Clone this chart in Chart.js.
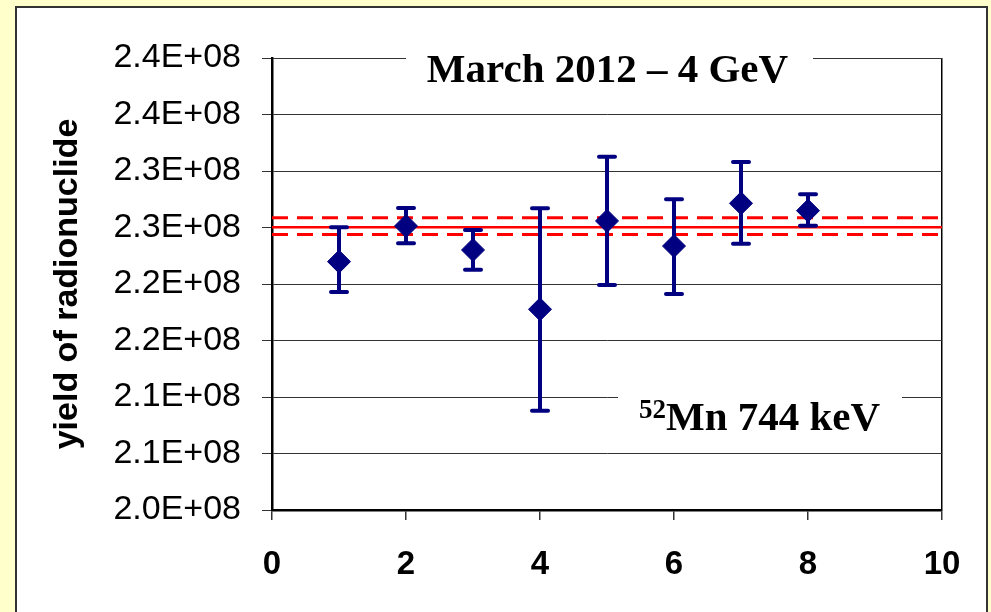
<!DOCTYPE html>
<html>
<head>
<meta charset="utf-8">
<script src="https://cdn.jsdelivr.net/npm/chart.js@4.4.1/dist/chart.umd.min.js"></script>
<style>
  html, body { margin: 0; padding: 0; background: #FFFFCC; width: 991px; height: 612px; overflow: hidden; }
  #frame { position: absolute; left: 15px; top: 6px; width: 973px; height: 700px; box-sizing: border-box;
           background: #FFFFFF; border: 2px solid #333333; }
  #c { position: absolute; left: 0; top: 0; }
</style>
</head>
<body>
<div id="frame"></div>
<canvas id="c" width="991" height="612"></canvas>
<script>
// ---- data ----
const runNumbers = [1, 2, 3, 4, 5, 6, 7, 8];
const yields     = [2.2198e8, 2.2513e8, 2.2301e8, 2.1776e8, 2.2558e8, 2.2336e8, 2.2714e8, 2.2649e8];
const yieldUpper = [2.2502e8, 2.2673e8, 2.2478e8, 2.2670e8, 2.3127e8, 2.2750e8, 2.3080e8, 2.2794e8];
const yieldLower = [2.1929e8, 2.2360e8, 2.2127e8, 2.0879e8, 2.1991e8, 2.1912e8, 2.2357e8, 2.2516e8];
const meanYield  = 2.2503e8;
const meanUpper  = 2.2586e8;
const meanLower  = 2.2438e8;
const meanSpan   = [0, 10];
const yTickLabels = ['2.0E+08', '2.1E+08', '2.1E+08', '2.2E+08', '2.2E+08', '2.3E+08', '2.3E+08', '2.4E+08', '2.4E+08'];
const chartTitle = 'March 2012 \u2013 4 GeV';
const isotopeMass = '52';
const isotopeLabel = 'Mn 744 keV';
const yAxisTitle = 'yield of radionuclide';

const NAVY = '#000080';
const RED = '#FF0000';

const errorBarPlugin = {
  id: 'errorBars',
  beforeDatasetDraw(chart, args) {
    if (args.index !== 0) return;
    const ctx = chart.ctx, xs = chart.scales.x, ys = chart.scales.y;
    ctx.save();
    ctx.strokeStyle = NAVY;
    ctx.lineWidth = 4;
    ctx.lineCap = 'round';
    for (let i = 0; i < runNumbers.length; i++) {
      const px = xs.getPixelForValue(runNumbers[i]);
      const top = ys.getPixelForValue(yieldUpper[i]);
      const bot = ys.getPixelForValue(yieldLower[i]);
      ctx.beginPath();
      ctx.moveTo(px, top); ctx.lineTo(px, bot);
      ctx.moveTo(px - 8, top); ctx.lineTo(px + 8, top);
      ctx.moveTo(px - 8, bot); ctx.lineTo(px + 8, bot);
      ctx.stroke();
    }
    ctx.restore();
  }
};

const labelsPlugin = {
  id: 'textBoxes',
  beforeDatasetsDraw(chart) {
    const ctx = chart.ctx;
    ctx.save();
    // title box
    ctx.fillStyle = '#FFFFFF';
    ctx.fillRect(406, 40, 407, 58);
    ctx.fillStyle = '#000000';
    ctx.font = 'bold 41px "Liberation Serif", "Times New Roman", serif';
    ctx.textAlign = 'center';
    ctx.textBaseline = 'alphabetic';
    ctx.fillText(chartTitle, 607.5, 82);
    // isotope box
    ctx.fillStyle = '#FFFFFF';
    ctx.fillRect(618, 380, 284, 62);
    ctx.fillStyle = '#000000';
    ctx.textAlign = 'left';
    ctx.font = 'bold 27px "Liberation Serif", "Times New Roman", serif';
    ctx.fillText(isotopeMass, 639, 418);
    const supW = ctx.measureText(isotopeMass).width;
    ctx.font = 'bold 41px "Liberation Serif", "Times New Roman", serif';
    ctx.fillText(isotopeLabel, 639 + supW, 430);
    ctx.restore();
  }
};

new Chart(document.getElementById('c'), {
  type: 'scatter',
  data: {
    datasets: [
      {
        data: runNumbers.map((x, i) => ({ x: x, y: yields[i] })),
        pointStyle: 'rectRot',
        pointRadius: 11.5,
        pointBackgroundColor: NAVY,
        pointBorderColor: NAVY,
        pointBorderWidth: 1,
        showLine: false
      },
      {
        type: 'line',
        data: meanSpan.map(x => ({ x: x, y: meanYield })),
        borderColor: RED, borderWidth: 2.5, pointRadius: 0, fill: false
      },
      {
        type: 'line',
        data: meanSpan.map(x => ({ x: x, y: meanUpper })),
        borderColor: RED, borderWidth: 3, borderDash: [16, 9], pointRadius: 0, fill: false
      },
      {
        type: 'line',
        data: meanSpan.map(x => ({ x: x, y: meanLower })),
        borderColor: RED, borderWidth: 3, borderDash: [16, 9], pointRadius: 0, fill: false
      }
    ]
  },
  options: {
    responsive: false,
    animation: false,
    layout: { padding: { top: 58, right: 49, bottom: 0, left: 0 } },
    plugins: { legend: { display: false }, tooltip: { enabled: false }, title: { display: false } },
    scales: {
      x: {
        type: 'linear',
        min: 0, max: 10,
        afterFit(scale) { scale.height = 102; },
        ticks: {
          stepSize: 2,
          maxRotation: 0,
          padding: 25,
          color: '#000000',
          font: { family: '"Liberation Sans", Arial, sans-serif', size: 33, weight: 'bold' }
        },
        grid: {
          color: (c) => (c.tick && c.tick.value === 10 ? '#000000' : 'rgba(0,0,0,0)'),
          lineWidth: 1.5,
          tickColor: '#333333',
          tickLength: 10
        },
        border: { display: true, color: '#000000', width: 2.5 }
      },
      y: {
        type: 'linear',
        min: 2.0e8, max: 2.4e8,
        afterFit(scale) { scale.width = 272; },
        ticks: {
          stepSize: 0.05e8,
          padding: 21,
          color: '#000000',
          font: { family: '"Liberation Sans", Arial, sans-serif', size: 34 },
          callback: (value, index) => yTickLabels[index]
        },
        grid: { color: '#333333', lineWidth: 1, tickColor: '#333333', tickLength: 10 },
        border: { display: true, color: '#000000', width: 2.5 },
        title: {
          display: true,
          text: yAxisTitle,
          color: '#000000',
          font: { family: '"Liberation Sans", Arial, sans-serif', size: 34, weight: 'bold' },
          padding: { top: 47, bottom: 0 }
        }
      }
    }
  },
  plugins: [errorBarPlugin, labelsPlugin]
});
</script>
</body>
</html>
